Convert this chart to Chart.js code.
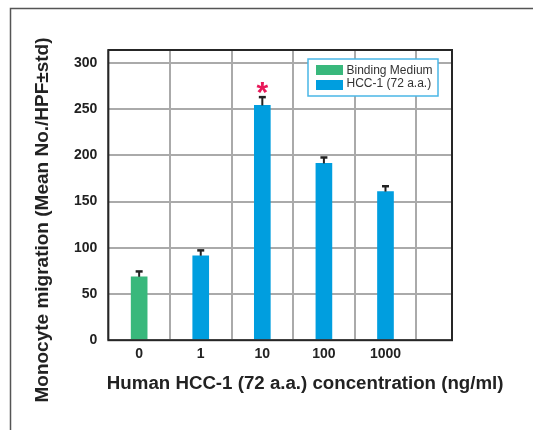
<!DOCTYPE html>
<html>
<head>
<meta charset="utf-8">
<title>Monocyte migration</title>
<script src="https://cdn.jsdelivr.net/npm/chart.js@4"></script>
<style>
  html, body { margin: 0; padding: 0; background: #fff; }
</style>
</head>
<body>
<canvas id="migrationChart" width="533" height="430"></canvas>
<script>
// Monocyte migration vs. HCC-1 (72 a.a.) concentration

// Data
const concentrations = ['0', '1', '10', '100', '1000'];
const mediumMeans = [68.6];                       // binding medium, at "0"
const hccMeans = [91.4, 254, 191.3, 160.8];       // HCC-1 at 1, 10, 100, 1000 ng/ml
const stdDevs = [5.8, 5.8, 9, 6.4, 5.8];          // upper error bars
const significance = ['', '', '*', '', ''];
const seriesNames = ['Binding Medium', 'HCC-1 (72 a.a.)'];
const seriesColors = ['#39b87c', '#009edf'];
const xTitle = 'Human HCC-1 (72 a.a.) concentration (ng/ml)';
const yTitle = 'Monocyte migration (Mean No./HPF\u00b1std)';

const allMeans = mediumMeans.concat(hccMeans);
const FONT = "'Liberation Sans', Arial, Helvetica, sans-serif";
Chart.defaults.font.family = FONT;
Chart.defaults.color = '#222';

// Extra drawing: error bars, asterisk, plot frame, legend box, axis titles
const decorations = {
  id: 'decorations',
  beforeDraw(chart) {
    const ctx = chart.ctx;
    ctx.save();
    ctx.fillStyle = '#fff';
    ctx.fillRect(0, 0, chart.width, chart.height);
    // outer figure frame, only top and left edges are visible
    ctx.strokeStyle = '#555';
    ctx.lineWidth = 1.5;
    ctx.beginPath();
    ctx.moveTo(10.5, chart.height);
    ctx.lineTo(10.5, 8.5);
    ctx.lineTo(chart.width, 8.5);
    ctx.stroke();
    ctx.restore();
  },
  afterDatasetsDraw(chart) {
    const { ctx, chartArea: a, scales: { x, y } } = chart;
    ctx.save();

    // error bars + significance
    allMeans.forEach((m, i) => {
      const px = x.getPixelForValue(i);
      const top = y.getPixelForValue(m);
      const cap = y.getPixelForValue(m + stdDevs[i]);
      ctx.strokeStyle = '#222';
      ctx.lineWidth = 2;
      ctx.beginPath();
      ctx.moveTo(px, top);
      ctx.lineTo(px, cap);
      ctx.stroke();
      ctx.lineWidth = 2.5;
      ctx.beginPath();
      ctx.moveTo(px - 3.5, cap);
      ctx.lineTo(px + 3.5, cap);
      ctx.stroke();
      if (significance[i]) {
        ctx.fillStyle = '#e8195a';
        ctx.font = 'bold 30px ' + FONT;
        ctx.textAlign = 'center';
        ctx.textBaseline = 'alphabetic';
        ctx.fillText(significance[i], px, cap + 5);
      }
    });

    // plot frame
    ctx.strokeStyle = '#262626';
    ctx.lineWidth = 2;
    ctx.strokeRect(a.left, a.top, a.right - a.left, a.bottom - a.top);

    // legend box
    const lx = a.right - 144, ly = a.top + 9;
    ctx.fillStyle = '#fff';
    ctx.fillRect(lx, ly, 130, 37);
    ctx.strokeStyle = '#4ab6e6';
    ctx.lineWidth = 1.5;
    ctx.strokeRect(lx, ly, 130, 37);
    ctx.font = '12px ' + FONT;
    ctx.textAlign = 'left';
    ctx.textBaseline = 'middle';
    seriesNames.forEach((name, k) => {
      ctx.fillStyle = seriesColors[k];
      ctx.fillRect(lx + 8, ly + 6 + k * 15, 27, 10);
      ctx.fillStyle = '#333';
      ctx.fillText(name, lx + 38.5, ly + 11.5 + k * 12.8);
    });

    // x axis title (starts at plot left edge, wider than the plot)
    ctx.fillStyle = '#222';
    ctx.font = 'bold 18.7px ' + FONT;
    ctx.textAlign = 'left';
    ctx.fillText(xTitle, a.left - 1.5, a.bottom + 44);

    // y axis title
    ctx.translate(43, 220);
    ctx.rotate(-Math.PI / 2);
    ctx.font = 'bold 19px ' + FONT;
    ctx.textAlign = 'center';
    ctx.fillText(yTitle, 0, 0);

    ctx.restore();
  }
};

const ctx = document.getElementById('migrationChart').getContext('2d');
new Chart(ctx, {
  type: 'bar',
  data: {
    datasets: [
      {
        label: seriesNames[0],
        data: mediumMeans.map((v, i) => ({ x: i, y: v })),
        backgroundColor: seriesColors[0]
      },
      {
        label: seriesNames[1],
        data: hccMeans.map((v, i) => ({ x: i + mediumMeans.length, y: v })),
        backgroundColor: seriesColors[1]
      }
    ]
  },
  options: {
    responsive: false,
    animation: false,
    barThickness: 16,
    grouped: false,
    layout: { padding: { left: 63, top: 50, right: 81, bottom: 61 } },
    plugins: {
      legend: { display: false },
      tooltip: { enabled: false }
    },
    scales: {
      x: {
        type: 'linear',
        min: -0.5,
        max: 5.08,
        offset: false,
        afterBuildTicks: (axis) => {
          axis.ticks = concentrations.map((c, i) => ({ value: i }));
        },
        ticks: {
          callback: (v) => concentrations[v],
          autoSkip: false,
          maxRotation: 0,
          padding: 6,
          font: { size: 14, weight: 'bold' },
          color: '#222'
        },
        grid: { offset: true, color: '#aaaaaa', lineWidth: 2, drawTicks: false },
        border: { display: false }
      },
      y: {
        min: 0,
        max: 314,
        ticks: {
          stepSize: 50,
          includeBounds: false,
          padding: 11,
          font: { size: 14, weight: 'bold' },
          color: '#222'
        },
        grid: { color: '#aaaaaa', lineWidth: 2, drawTicks: false },
        border: { display: false }
      }
    }
  },
  plugins: [decorations]
});
</script>
</body>
</html>
